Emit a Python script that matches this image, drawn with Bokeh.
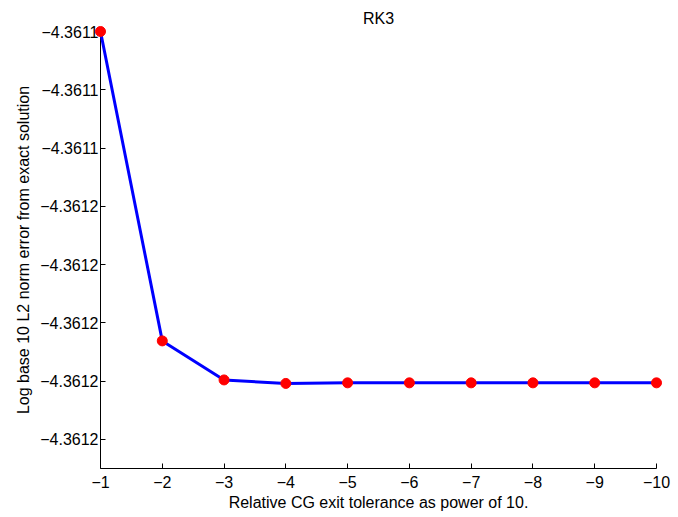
from bokeh.plotting import figure
from bokeh.models import Range1d, FixedTicker
from bokeh.embed import file_html
from bokeh.resources import INLINE

# Data
tolerance_exp = [-1, -2, -3, -4, -5, -6, -7, -8, -9, -10]
log_error = [-4.3611470, -4.36115231, -4.36115298, -4.36115304, -4.36115303,
             -4.36115303, -4.36115303, -4.36115303, -4.36115303, -4.36115303]

x_ticks = [-1, -2, -3, -4, -5, -6, -7, -8, -9, -10]
x_tick_labels = ["\u22121", "\u22122", "\u22123", "\u22124", "\u22125",
                 "\u22126", "\u22127", "\u22128", "\u22129", "\u221210"]
y_ticks = [-4.361147, -4.361148, -4.361149, -4.361150,
           -4.361151, -4.361152, -4.361153, -4.361154]
y_tick_labels = ["\u22124.3611", "\u22124.3611", "\u22124.3611", "\u22124.3612",
                 "\u22124.3612", "\u22124.3612", "\u22124.3612", "\u22124.3612"]
title_text = "RK3"

x_lim = (-1, -10)
y_lim = (-4.3611545, -4.361147)

FONT = "Liberation Sans"

p = figure(width=678, height=517, output_backend="svg", toolbar_location=None,
           x_range=Range1d(*x_lim), y_range=Range1d(*y_lim),
           title=title_text, min_border_left=100, min_border_right=22,
           min_border_top=31, min_border_bottom=49)

p.title.align = "center"
p.title.vertical_align = "top"
p.title.text_font = FONT
p.title.text_font_size = "16px"
p.title.text_font_style = "normal"
p.title.text_color = "black"
p.title.standoff = 6

p.outline_line_color = None
p.xgrid.visible = False
p.ygrid.visible = False
p.background_fill_color = "white"
p.border_fill_color = "white"

p.xaxis.ticker = FixedTicker(ticks=x_ticks)
p.xaxis.major_label_overrides = {t: l for t, l in zip(x_ticks, x_tick_labels)}
p.yaxis.ticker = FixedTicker(ticks=y_ticks)
p.yaxis.major_label_overrides = {t: l for t, l in zip(y_ticks, y_tick_labels)}

p.xaxis.axis_label = "Relative CG exit tolerance as power of 10."
p.yaxis.axis_label = "Log base 10 L2 norm error from exact solution"

for ax in (p.xaxis, p.yaxis):
    ax.axis_line_color = "black"
    ax.axis_line_width = 1
    ax.major_tick_line_color = "black"
    ax.major_tick_in = 5
    ax.major_tick_out = 0
    ax.minor_tick_line_color = None
    ax.major_label_text_font = FONT
    ax.major_label_text_font_size = "16px"
    ax.major_label_text_color = "black"
    ax.axis_label_text_font = FONT
    ax.axis_label_text_font_size = "16px"
    ax.axis_label_text_font_style = "normal"
    ax.axis_label_text_color = "black"

p.xaxis.major_label_standoff = 7
p.xaxis.axis_label_standoff = 3
p.yaxis.major_label_standoff = 2
p.yaxis.axis_label_standoff = 5

r_line = p.line(tolerance_exp, log_error, line_color="#0000ff", line_width=3)
r_pts = p.scatter(tolerance_exp, log_error, size=10, fill_color="#ff0000",
                  line_color="#ff0000")
# draw on the overlay level so markers on the axes are not clipped
r_line.level = "overlay"
r_pts.level = "overlay"

open("out.html", "w").write(file_html(p, INLINE))
